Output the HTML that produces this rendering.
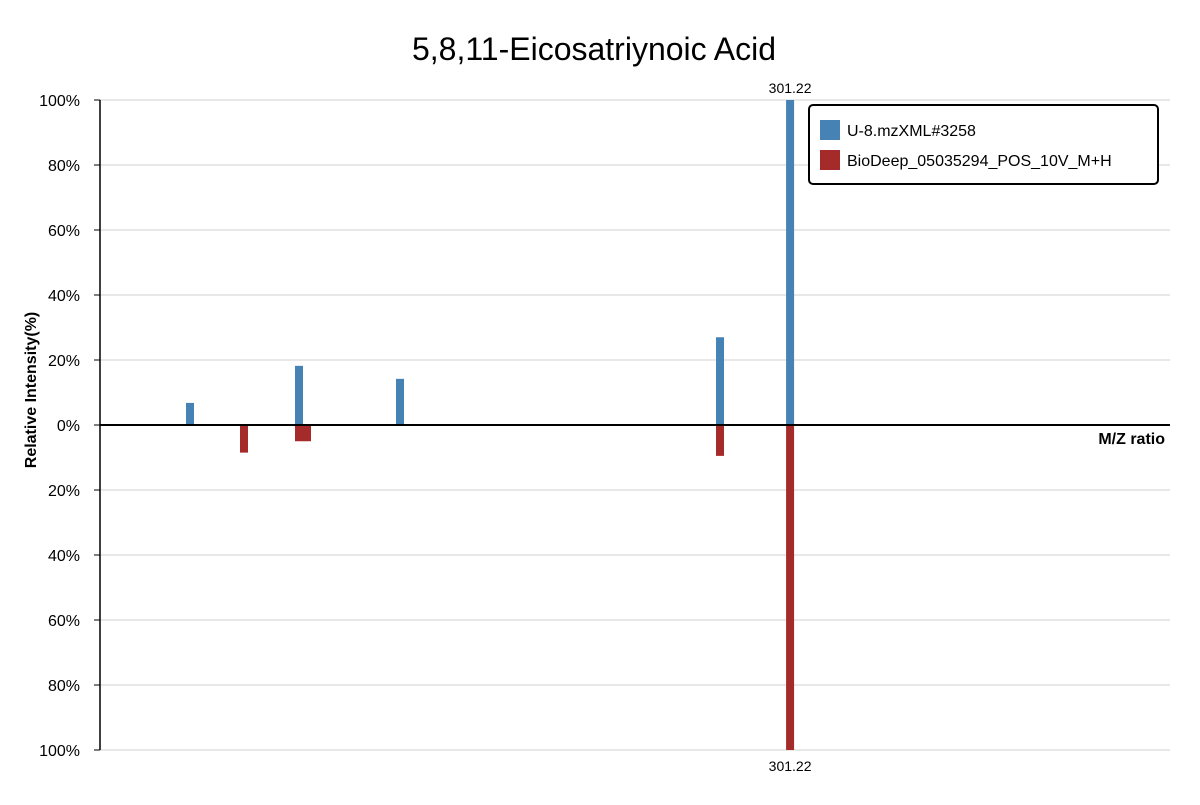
<!DOCTYPE html>
<html><head><meta charset="utf-8"><style>
body{margin:0;background:#fff;}
svg{font-family:"Segoe UI","Liberation Sans",sans-serif;}
</style></head><body>
<svg id="chart" width="1200" height="800">
<text x="594" y="60" text-anchor="middle" font-size="32" fill="#000">5,8,11-Eicosatriynoic Acid</text>
<g id="grid"></g>
<g id="yaxis"></g>
<g id="bars"></g>
<line x1="100" y1="425" x2="1170" y2="425" stroke="#000" stroke-width="2"/>
<line x1="100" y1="100" x2="100" y2="750" stroke="#000" stroke-width="1.5"/>
<text x="1165" y="444" text-anchor="end" font-size="16" font-weight="bold">M/Z ratio</text>
<text transform="translate(36,390) rotate(-90)" text-anchor="middle" font-size="16" font-weight="bold">Relative Intensity(%)</text>
<g>
<rect x="809" y="105" width="349" height="79" rx="4" fill="#fff" stroke="#000" stroke-width="2"/>
<rect x="820" y="120" width="20" height="20" fill="#4682b4"/>
<text x="847" y="136" font-size="16">U-8.mzXML#3258</text>
<rect x="820" y="150" width="20" height="20" fill="#a52a2a"/>
<text x="847" y="166" font-size="16">BioDeep_05035294_POS_10V_M+H</text>
</g>
</svg>
<script>
const sampleMz=[126.24,158.03,187.48,280.79,301.22];
const sampleInt=[6.8,18.2,14.2,27,100];
const refMz=[141.99,158.03,160.36,280.79,301.22];
const refInt=[8.5,5,5,9.5,100];
const yTicks=[100,80,60,40,20,0,-20,-40,-60,-80,-100];
const xDomain=[100,412];
const NS='http://www.w3.org/2000/svg';
const X=m=>100+(m-xDomain[0])/(xDomain[1]-xDomain[0])*1070;
const Y=v=>425-v*3.25;
function mk(tag,attrs,parent){const e=document.createElementNS(NS,tag);for(const k in attrs)e.setAttribute(k,attrs[k]);parent.appendChild(e);return e;}
const grid=document.getElementById('grid'),ya=document.getElementById('yaxis'),bars=document.getElementById('bars');
yTicks.forEach(t=>{
 const l=mk('line',{x1:100,x2:1170,y1:Y(t),y2:Y(t),stroke:'#e0e0e0','stroke-width':1.5},grid);
 
 
 const tk=mk('line',{x1:94,x2:100,y1:Y(t),y2:Y(t),stroke:'#000'},ya);
 
 
 const tx=mk('text',{x:80,y:Y(t)+6,'text-anchor':'end','font-size':16},ya);
 tx.textContent=Math.abs(t)+'%';
 
 
});
sampleMz.forEach((m,i)=>{
 const r=mk('rect',{x:X(m)-4,y:Y(sampleInt[i]),width:8,height:sampleInt[i]*3.25,fill:'#4682b4'},bars);
 
 
});
refMz.forEach((m,i)=>{
 const r=mk('rect',{x:X(m)-4,y:425,width:8,height:refInt[i]*3.25,fill:'#a52a2a'},bars);
 
 
});
const si=sampleInt.indexOf(Math.max(...sampleInt));
const t1=mk('text',{x:X(sampleMz[si]),y:Y(sampleInt[si])-7,'text-anchor':'middle','font-size':14},bars);
t1.textContent=sampleMz[si].toFixed(2);


const ri=refInt.indexOf(Math.max(...refInt));
const t2=mk('text',{x:X(refMz[ri]),y:425+refInt[ri]*3.25+21,'text-anchor':'middle','font-size':14},bars);
t2.textContent=refMz[ri].toFixed(2);


</script>
</body></html>
